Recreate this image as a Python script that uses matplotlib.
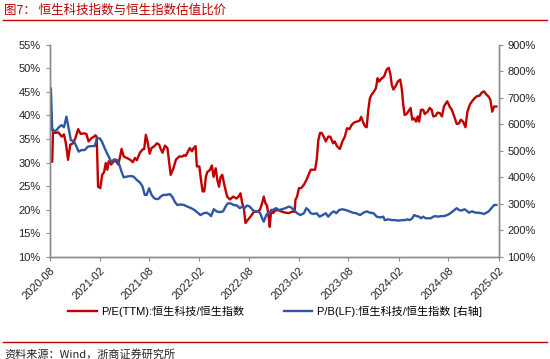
import matplotlib
matplotlib.use("Agg")
import matplotlib.pyplot as plt
import matplotlib.dates as mdates
from matplotlib.lines import Line2D
import pandas as pd

plt.rcParams['font.family'] = ['Liberation Sans', 'Noto Sans CJK SC', 'DejaVu Sans']

title = "图7： 恒生科技指数与恒生指数估值比价"
source = "资料来源：Wind，浙商证券研究所"
label_pe = "P/E(TTM):恒生科技/恒生指数"
label_pb = "P/B(LF):恒生科技/恒生指数 [右轴]"

pe_dates = ["2020-08-01","2020-08-11","2020-08-14","2020-08-20","2020-09-03","2020-09-15","2020-09-23","2020-09-30",
"2020-10-08","2020-10-16","2020-10-26","2020-11-04","2020-11-14","2020-11-23","2020-12-05","2020-12-14","2020-12-22",
"2021-01-02","2021-01-11","2021-01-16","2021-01-21","2021-01-26","2021-02-03","2021-02-10","2021-02-17","2021-02-23",
"2021-03-01","2021-03-06","2021-03-15","2021-03-24","2021-04-02","2021-04-10","2021-04-18","2021-04-22","2021-04-30",
"2021-05-11","2021-05-24","2021-06-02","2021-06-10","2021-06-17","2021-06-28","2021-07-08","2021-07-14","2021-07-20",
"2021-07-26","2021-08-03","2021-08-10","2021-08-20","2021-08-30","2021-09-07","2021-09-11","2021-09-19","2021-09-28",
"2021-10-07","2021-10-13","2021-10-19","2021-10-29","2021-11-07","2021-11-19","2021-12-01","2021-12-07","2021-12-13",
"2021-12-19","2021-12-28","2022-01-05","2022-01-11","2022-01-18","2022-01-23","2022-02-01","2022-02-07","2022-02-13",
"2022-02-19","2022-02-25","2022-03-02","2022-03-11","2022-03-19","2022-03-25","2022-04-02","2022-04-08","2022-04-14",
"2022-04-20","2022-04-26","2022-05-05","2022-05-14","2022-05-24","2022-06-05","2022-06-17","2022-06-26","2022-07-02",
"2022-07-08","2022-07-14","2022-07-20","2022-07-29","2022-08-08","2022-08-20","2022-09-01","2022-09-11","2022-09-19",
"2022-09-25","2022-10-01","2022-10-07","2022-10-13","2022-10-17","2022-10-22","2022-10-29","2022-11-07","2022-11-19",
"2022-12-01","2022-12-13","2022-12-25","2023-01-07","2023-01-16","2023-01-19","2023-01-25","2023-02-01","2023-02-09",
"2023-02-19","2023-02-28","2023-03-08","2023-03-16","2023-03-26","2023-04-01","2023-04-07","2023-04-13","2023-04-19",
"2023-04-25","2023-05-03","2023-05-10","2023-05-19","2023-05-27","2023-06-06","2023-06-12","2023-06-20","2023-07-01",
"2023-07-10","2023-07-19","2023-07-27","2023-08-05","2023-08-13","2023-08-22","2023-09-01","2023-09-11","2023-09-17",
"2023-09-23","2023-10-01","2023-10-07","2023-10-13","2023-10-19","2023-10-25","2023-11-03","2023-11-10","2023-11-16",
"2023-11-22","2023-12-01","2023-12-03","2023-12-10","2023-12-19","2023-12-27","2024-01-02","2024-01-07","2024-01-13",
"2024-01-21","2024-01-29","2024-02-07","2024-02-13","2024-02-18","2024-02-23","2024-03-01","2024-03-07","2024-03-16",
"2024-03-22","2024-03-29","2024-04-05","2024-04-11","2024-04-16","2024-04-23","2024-05-01","2024-05-07","2024-05-17",
"2024-05-25","2024-06-01","2024-06-07","2024-06-15","2024-06-23","2024-07-01","2024-07-09","2024-07-16","2024-07-28",
"2024-08-06","2024-08-14","2024-08-21","2024-09-01","2024-09-09","2024-09-16","2024-09-24","2024-10-03","2024-10-10",
"2024-10-19","2024-10-27","2024-11-06","2024-11-15","2024-11-24","2024-12-01","2024-12-10","2024-12-19","2024-12-25",
"2025-01-02","2025-01-09","2025-01-16","2025-01-24"]
pe_values = [30.2,30.2,37.0,36.3,36.4,35.5,36.0,34.1,
30.6,33.8,34.1,35.2,37.1,36.1,36.2,36.1,34.5,
35.2,35.5,35.8,35.5,24.9,24.6,27.4,28.0,29.9,
28.5,30.3,29.6,30.3,30.3,29.6,31.7,32.9,31.3,
31.0,30.6,30.1,31.0,30.5,32.1,32.8,32.9,35.9,
34.5,31.9,33.1,33.5,34.1,33.8,33.1,32.1,33.6,
33.1,30.2,27.4,28.8,30.6,31.3,31.3,31.6,31.4,
32.1,33.1,32.4,33.1,33.5,29.2,29.2,26.3,23.9,
23.9,27.0,28.0,28.4,29.4,27.0,28.8,26.3,24.9,
27.0,27.4,24.9,22.8,22.2,22.8,22.4,22.9,23.5,
21.4,20.4,17.2,17.9,18.6,19.6,19.6,20.0,21.4,
22.8,21.4,20.9,18.5,16.4,20.0,19.3,19.9,19.9,
19.6,19.4,19.3,19.6,19.6,22.1,22.8,24.6,24.6,
25.3,26.3,27.4,28.5,28.5,28.5,30.6,34.8,36.3,
36.3,35.5,34.5,35.5,35.5,34.1,34.5,33.5,32.9,
34.5,35.5,37.3,37.1,38.0,38.5,38.7,38.9,39.7,
38.7,37.7,37.5,41.2,43.7,44.4,45.1,45.8,47.9,
47.2,47.9,47.9,48.3,49.7,50.1,48.7,46.5,45.5,
46.2,47.2,47.6,45.5,42.3,40.1,40.3,40.8,41.6,
39.1,39.4,38.7,39.8,38.7,41.2,41.2,40.3,40.8,
41.6,41.2,39.8,39.9,40.6,40.5,39.8,41.9,43.0,
41.9,41.2,40.1,38.2,38.3,39.1,38.7,37.5,40.8,
42.3,43.0,43.7,44.1,44.2,44.8,45.1,44.4,44.1,
43.4,40.8,41.9,41.9]

pb_dates = ["2020-08-01","2020-08-03","2020-08-06","2020-08-11","2020-08-18","2020-08-27","2020-09-04","2020-09-14",
"2020-09-23","2020-10-02","2020-10-08","2020-10-18","2020-10-30","2020-11-08","2020-11-16","2020-11-26","2020-12-08",
"2020-12-20","2021-01-02","2021-01-14","2021-01-22","2021-02-01","2021-02-09","2021-02-19","2021-03-03","2021-03-15",
"2021-03-27","2021-04-06","2021-04-14","2021-04-22","2021-04-30","2021-05-11","2021-05-24","2021-06-05","2021-06-17",
"2021-06-29","2021-07-08","2021-07-16","2021-07-23","2021-08-01","2021-08-10","2021-08-20","2021-08-30","2021-09-07",
"2021-09-11","2021-09-22","2021-10-04","2021-10-16","2021-10-25","2021-11-03","2021-11-12","2021-11-25","2021-12-07",
"2021-12-19","2022-01-02","2022-01-14","2022-01-26","2022-02-05","2022-02-17","2022-02-28","2022-03-08","2022-03-16",
"2022-03-26","2022-04-05","2022-04-17","2022-04-29","2022-05-08","2022-05-16","2022-05-26","2022-06-07","2022-06-19",
"2022-06-29","2022-07-08","2022-07-16","2022-07-26","2022-08-05","2022-08-13","2022-08-22","2022-09-01","2022-09-11",
"2022-09-19","2022-09-25","2022-10-04","2022-10-13","2022-10-22","2022-11-01","2022-11-10","2022-11-19","2022-12-01",
"2022-12-13","2022-12-25","2023-01-03","2023-01-13","2023-01-25","2023-02-06","2023-02-19","2023-02-28","2023-03-08",
"2023-03-16","2023-03-26","2023-04-07","2023-04-17","2023-04-29","2023-05-10","2023-05-19","2023-06-01","2023-06-09",
"2023-06-18","2023-06-28","2023-07-10","2023-07-22","2023-08-05","2023-08-17","2023-08-29","2023-09-13","2023-09-25",
"2023-10-07","2023-10-19","2023-11-01","2023-11-13","2023-11-25","2023-12-07","2023-12-12","2023-12-25","2024-01-07",
"2024-01-19","2024-02-01","2024-02-13","2024-02-25","2024-03-05","2024-03-13","2024-03-22","2024-03-29","2024-04-07",
"2024-04-16","2024-04-23","2024-05-01","2024-05-10","2024-05-19","2024-05-29","2024-06-07","2024-06-15","2024-06-25",
"2024-07-04","2024-07-16","2024-07-28","2024-08-09","2024-08-21","2024-09-01","2024-09-09","2024-09-19","2024-09-29",
"2024-10-07","2024-10-16","2024-10-27","2024-11-09","2024-11-19","2024-12-01","2024-12-10","2024-12-19","2024-12-27",
"2025-01-06","2025-01-16","2025-01-24"]
pb_values = [704,736,736,578,573,578,589,597,
589,629,597,541,535,516,497,503,503,
516,518,518,547,547,535,510,484,459,
468,465,447,421,400,403,405,403,390,
380,365,334,334,359,334,321,318,321,
327,334,334,337,327,308,296,298,296,
290,284,277,267,258,265,267,262,254,
280,272,269,272,290,302,302,296,294,
284,290,284,294,290,280,272,272,267,
246,233,258,268,272,280,284,277,280,
284,290,287,277,265,258,265,284,277,
265,262,265,252,258,265,252,267,272,
265,277,280,277,272,267,265,258,267,
272,267,265,252,249,252,239,242,239,
239,237,239,239,242,239,246,258,254,
252,246,252,246,246,246,252,254,252,
254,254,258,265,275,284,277,275,280,
275,267,272,267,267,265,262,267,272,
284,296,296]

left_ticks = [10, 15, 20, 25, 30, 35, 40, 45, 50, 55]
right_ticks = [100, 200, 300, 400, 500, 600, 700, 800, 900]

RED = '#C00000'
BLUE = '#2E56A3'
GRAY = '#8C8C8C'

fig = plt.figure(figsize=(5.5, 3.59), dpi=100)
W, H = 550, 359
ax = fig.add_axes([49.5 / W, 1 - 257 / H, 449 / W, (257 - 44.7) / H])
ax2 = ax.twinx()

pe_x = pd.to_datetime(pe_dates)
pb_x = pd.to_datetime(pb_dates)
l1, = ax.plot(pe_x, pe_values, color=RED, lw=1.7, label=label_pe)
l2, = ax2.plot(pb_x, pb_values, color=BLUE, lw=1.7, label=label_pb)

ax.set_ylim(10, 55)
ax.set_yticks(left_ticks)
ax.set_yticklabels([f"{t}%" for t in left_ticks])
ax2.set_ylim(100, 900)
ax2.set_yticks(right_ticks)
ax2.set_yticklabels([f"{t}%" for t in right_ticks])

ax.set_xlim(pd.Timestamp("2020-08-01"), pd.Timestamp("2025-02-01"))
ax.xaxis.set_major_locator(mdates.MonthLocator(bymonth=[2, 8]))
ax.xaxis.set_major_formatter(mdates.DateFormatter("%Y-%m"))
for lab in ax.get_xticklabels():
    lab.set_rotation(45)
    lab.set_ha('right')
    lab.set_rotation_mode('anchor')

for a in (ax, ax2):
    a.spines['top'].set_visible(False)
    for s in ('left', 'right', 'bottom'):
        a.spines[s].set_color(GRAY)
        a.spines[s].set_linewidth(1.0)
    a.tick_params(axis='both', colors=GRAY, labelcolor='#222222', labelsize=8, length=3, width=0.8, direction='out')
ax.tick_params(axis='x', pad=3)

fig.text(4 / W, 1 - 10 / H, title, color=RED, fontsize=9, va='center', ha='left',
         family=['Noto Sans CJK SC'])
fig.add_artist(Line2D([3 / W, 547 / W], [1 - 20 / H] * 2, color=RED, lw=1.0))
fig.add_artist(Line2D([3 / W, 547 / W], [1 - 342 / H] * 2, color=RED, lw=1.0))
fig.text(4 / W, 1 - 354 / H, source, color='#222222', fontsize=8, va='center', ha='left',
         family=['Noto Sans CJK SC'])

fig.legend(handles=[l1, l2], loc='center', bbox_to_anchor=(0.5, 1 - 311 / H), ncol=2, frameon=False,
           fontsize=8, handlelength=2.6, columnspacing=3.5, handletextpad=0.4)

fig.savefig("out.png", dpi=100)
